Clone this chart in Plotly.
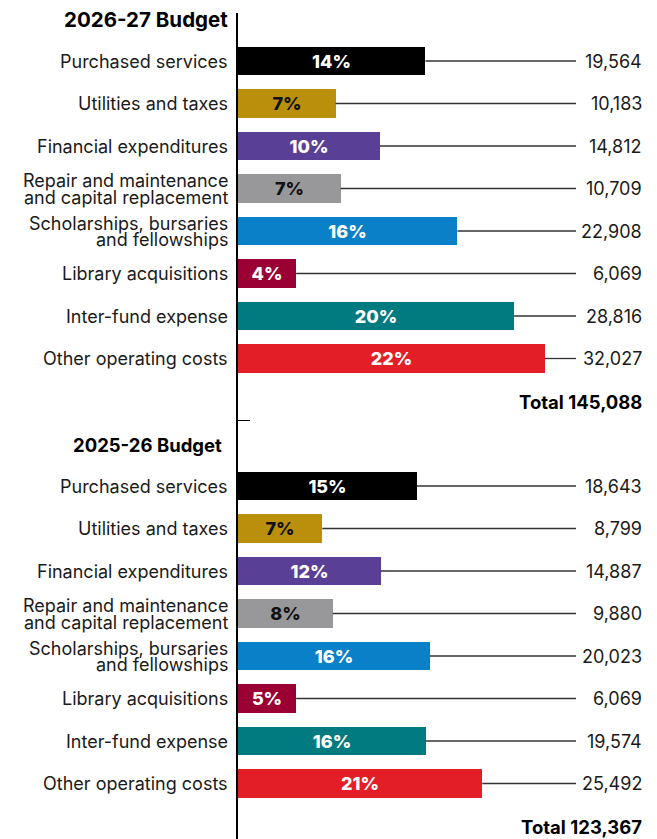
import plotly.graph_objects as go

# Expense categories (same order in both budget years)
categories = [
    "Purchased services",
    "Utilities and taxes",
    "Financial expenditures",
    "Repair and maintenance|and capital replacement",
    "Scholarships, bursaries|and fellowships",
    "Library acquisitions",
    "Inter-fund expense",
    "Other operating costs",
]

budget_titles = ["2026-27 Budget", "2025-26 Budget"]

# Amounts in thousands of dollars
values_2026_27 = [19564, 10183, 14812, 10709, 22908, 6069, 28816, 32027]
values_2025_26 = [18643, 8799, 14887, 9880, 20023, 6069, 19574, 25492]

# Published share of total expenses, per cent
share_2026_27 = [14, 7, 10, 7, 16, 4, 20, 22]
share_2025_26 = [15, 7, 12, 8, 16, 5, 16, 21]

bar_colors = ["#000000", "#B98F0C", "#5A3F97", "#98989B",
              "#0A80C8", "#9A0033", "#017B80", "#E31E26"]
pct_text_colors = ["#FFFFFF", "#111111", "#FFFFFF", "#111111",
                   "#FFFFFF", "#FFFFFF", "#FFFFFF", "#FFFFFF"]

# ---- layout constants -------------------------------------------------
W, H = 657, 839
LEFT = 238            # pixel position of the vertical axis
TOP = 13              # top of the axis line
PX_PER_UNIT = 0.00958 # horizontal scale
ROW_PX = 42.5         # vertical distance between rows
FIRST_ROW_PX = 61     # centre of the first bar
PANEL_OFFSET = 10     # rows between the two panels
LEADER_END_PX = 576   # where the leader lines stop
FONT = "Inter"
TEXT = "#1a1a1a"

x_max = (W - LEFT) / PX_PER_UNIT
y_top = (TOP - FIRST_ROW_PX) / ROW_PX
y_bottom = (H - FIRST_ROW_PX) / ROW_PX
leader_end = (LEADER_END_PX - LEFT) / PX_PER_UNIT

fig = go.Figure()
annotations = []

panels = [
    (budget_titles[0], values_2026_27, share_2026_27, 20.5, -8),
    (budget_titles[1], values_2025_26, share_2025_26, 18.5, -14),
]

for p, (title, vals, shares, title_size, title_shift) in enumerate(panels):
    base = p * PANEL_OFFSET
    rows = [base + i for i in range(len(vals))]
    total = sum(vals)
    pcts = [f"{s}%" for s in shares]

    # leader lines from each bar end to the value column
    lx, ly = [], []
    for v, r in zip(vals, rows):
        lx += [v, leader_end, None]
        ly += [r, r, None]
    fig.add_trace(go.Scatter(
        x=lx, y=ly, mode="lines", hoverinfo="skip",
        line=dict(color="#333333", width=1.3), showlegend=False,
    ))

    fig.add_trace(go.Bar(
        x=vals, y=rows, orientation="h", width=0.66,
        marker=dict(color=bar_colors, line=dict(width=0)),
        text=pcts, textposition="inside", insidetextanchor="middle",
        textfont=dict(family=FONT, size=18, color=pct_text_colors, weight=800),
        constraintext="none", cliponaxis=False,
        showlegend=False, hoverinfo="skip",
    ))

    # section title
    annotations.append(dict(
        x=0, y=base - 1, xref="x", yref="y", text=f"<b>{title}</b>",
        xanchor="right", yanchor="middle", xshift=title_shift, yshift=-1,
        showarrow=False,
        font=dict(family=FONT, size=title_size, color="#000000", weight=800),
    ))

    # category labels (two-line ones are set as two tightly stacked lines)
    for cat, r in zip(categories, rows):
        parts = cat.split("|")
        shifts = [0] if len(parts) == 1 else [8, -8.5]
        for txt, ys in zip(parts, shifts):
            annotations.append(dict(
                x=0, y=r, xref="x", yref="y", text=txt,
                xanchor="right", yanchor="middle", xshift=-8, yshift=ys,
                showarrow=False, font=dict(family=FONT, size=18, color=TEXT),
            ))

    # value labels
    for v, r in zip(vals, rows):
        annotations.append(dict(
            x=1, y=r, xref="paper", yref="y", text=f"{v:,}",
            xanchor="right", yanchor="middle", xshift=-13,
            showarrow=False, font=dict(family=FONT, size=18, color=TEXT),
        ))

    # total
    annotations.append(dict(
        x=1, y=base + len(vals), xref="paper", yref="y",
        text=f"<b>Total {total:,}</b>",
        xanchor="right", yanchor="middle", xshift=-13, yshift=-1,
        showarrow=False,
        font=dict(family=FONT, size=18.5, color="#000000", weight=800),
    ))

fig.update_layout(
    width=W, height=H,
    margin=dict(l=LEFT, r=0, t=TOP, b=0),
    paper_bgcolor="white", plot_bgcolor="white",
    bargap=0, annotations=annotations,
    xaxis=dict(range=[0, x_max], showgrid=False, zeroline=False,
               showticklabels=False, showline=False, fixedrange=True),
    yaxis=dict(range=[y_bottom, y_top], showgrid=False, zeroline=False,
               showticklabels=False, showline=True, linecolor="#000000",
               linewidth=1.5, ticks="inside", ticklen=12, tickwidth=1.2,
               tickcolor="#000000",
               tickvals=[len(categories) + 0.47], fixedrange=True),
)

fig.write_html("out.html")
